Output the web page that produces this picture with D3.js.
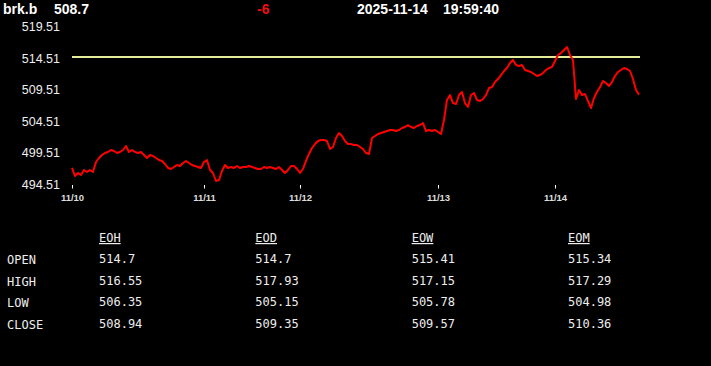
<!DOCTYPE html>
<html>
<head>
<meta charset="utf-8">
<script src="https://cdn.jsdelivr.net/npm/d3@7"></script>
<style>
  body { margin: 0; background: #000; }
  svg { display: block; }
</style>
</head>
<body>
<div id="chart"></div>
<script>
// header
var symbol = "brk.b", lastPrice = "508.7", change = "-6", stamp = ["2025-11-14", "19:59:40"];
var prevClose = 514.7;

// price series (index based, pre/after hours included)
var prices = [
  497.10, 495.83, 496.30, 495.98, 496.78, 496.46, 496.78, 496.46, 498.05, 498.68,
  499.16, 499.47, 499.63, 499.95, 499.79, 499.47, 499.63, 499.95, 500.58, 499.63,
  499.95, 499.63, 499.47, 499.63, 499.16, 498.68, 499.16, 499.00, 498.68, 498.36,
  498.21, 497.73, 497.10, 496.94, 497.25, 497.57, 497.41, 497.89, 498.21, 497.89,
  497.57, 497.41, 497.25, 497.10, 498.05, 498.36, 496.78, 496.30, 495.03, 495.19,
  496.62, 497.57, 497.10, 497.25, 497.10, 497.41, 497.10, 497.25, 497.25, 497.41,
  497.25, 497.10, 496.94, 496.94, 497.25, 497.10, 497.25, 497.10, 496.94, 497.25,
  496.78, 496.30, 496.78, 497.41, 497.41, 496.94, 496.30, 496.94, 498.21, 499.32,
  500.27, 500.90, 501.38, 501.54, 501.54, 501.38, 500.11, 500.43, 501.85, 502.65,
  502.17, 501.38, 500.90, 500.90, 500.74, 500.74, 500.43, 500.11, 499.47, 499.32,
  501.85, 502.17, 502.49, 502.65, 502.80, 502.96, 503.12, 503.12, 502.96, 503.12,
  503.44, 503.60, 503.91, 503.60, 503.44, 503.76, 503.91, 504.23, 502.96, 503.12,
  502.96, 503.12, 502.80, 502.49, 504.71, 507.88, 508.67, 507.40, 507.25, 508.67,
  509.15, 507.40, 506.77, 508.67, 508.99, 507.88, 507.72, 508.04, 508.67, 509.78,
  509.94, 510.73, 511.21, 511.84, 512.48, 512.96, 513.75, 514.22, 513.43, 513.27,
  513.43, 512.64, 512.48, 512.32, 512.00, 511.69, 511.84, 512.16, 512.64, 512.96,
  513.11, 514.07, 515.02, 515.33, 515.81, 516.29, 515.02, 514.22, 508.04, 509.47,
  508.67, 508.83, 507.72, 506.61, 508.20, 509.15, 509.94, 510.89, 510.58, 510.10,
  510.73, 511.69, 512.32, 512.64, 512.96, 512.80, 512.48, 511.21, 509.47, 508.70
];

// x ticks: index of the first bar of each day
var dayIndex = [0, 44, 76, 122, 161];
var dayLabels = ["11/10", "11/11", "11/12", "11/13", "11/14"];

// y ticks
var yTicks = [494.51, 499.51, 504.51, 509.51, 514.51, 519.51];

// summary table
var periods = ["EOH", "EOD", "EOW", "EOM"];
var rowNames = ["OPEN", "HIGH", "LOW", "CLOSE"];
var openVals = ["514.7", "514.7", "515.41", "515.34"];
var highVals = ["516.55", "517.93", "517.15", "517.29"];
var lowVals = ["506.35", "505.15", "505.78", "504.98"];
var closeVals = ["508.94", "509.35", "509.57", "510.36"];

var W = 711, H = 366;
var svg = d3.select("#chart").append("svg")
    .attr("width", W)
    .attr("height", H)
    .style("background", "#000");

var sans = "'Liberation Sans', Arial, sans-serif";
var mono = "'DejaVu Sans Mono', monospace";

// header text
var head = svg.append("g")
    .style("font-family", sans)
    .style("font-size", "14px")
    .style("font-weight", "bold");
head.append("text").attr("x", 3).attr("y", 14).attr("fill", "#fff").text(symbol);
head.append("text").attr("x", 54).attr("y", 14).attr("fill", "#fff").text(lastPrice);
head.append("text").attr("x", 257).attr("y", 14).attr("fill", "#ee1111").text(change);
head.append("text").attr("x", 357).attr("y", 14).attr("fill", "#fff").text(stamp[0]);
head.append("text").attr("x", 443).attr("y", 14).attr("fill", "#fff").text(stamp[1]);

// scales
var x = d3.scaleLinear()
    .domain([0, prices.length - 1])
    .range([72, 639]);
var y = d3.scaleLinear()
    .domain([494.51, 519.51])
    .range([184.3, 26.7]);

// y axis labels
var yAxis = svg.append("g")
    .attr("transform", "translate(60,0)")
    .call(d3.axisLeft(y).tickValues(yTicks).tickSize(0).tickPadding(0).tickFormat(d3.format(".2f")));
yAxis.select(".domain").remove();
yAxis.selectAll("text")
    .attr("fill", "#eee")
    .style("font-family", sans)
    .style("font-size", "12.5px");

// x axis ticks + labels
var xAxis = svg.append("g")
    .attr("transform", "translate(0,185)")
    .call(d3.axisBottom(x).tickValues(dayIndex).tickSize(3.5).tickPadding(6)
        .tickFormat(function(d, i) { return dayLabels[i]; }));
xAxis.select(".domain").remove();
xAxis.selectAll("line").attr("stroke", "#fff");
xAxis.selectAll("text")
    .attr("fill", "#ddd")
    .style("font-family", sans)
    .style("font-size", "9.5px")
    .style("font-weight", "bold");

// previous close line
svg.append("line")
    .attr("x1", x(0))
    .attr("x2", x(prices.length - 1) + 1)
    .attr("y1", y(prevClose))
    .attr("y2", y(prevClose))
    .attr("stroke", "#e4ec9a")
    .attr("stroke-width", 2);

// price line
var line = d3.line()
    .x(function(d, i) { return x(i); })
    .y(function(d) { return y(d); });
svg.append("path")
    .datum(prices)
    .attr("d", line)
    .attr("fill", "none")
    .attr("stroke", "#ff0000")
    .attr("stroke-width", 2)
    .attr("stroke-linejoin", "round");

// table
var colX = d3.scalePoint().domain(periods).range([99, 568]);
var rowY = d3.scalePoint().domain(rowNames).range([263, 328]);
var table = svg.append("g")
    .style("font-family", mono)
    .style("font-size", "12px")
    .attr("fill", "#eee");

table.selectAll(".hdr")
    .data(periods)
    .enter().append("text")
    .attr("class", "hdr")
    .attr("x", function(d) { return colX(d); })
    .attr("y", 242)
    .style("text-decoration", "underline")
    .text(function(d) { return d; });

table.selectAll(".row")
    .data(rowNames)
    .enter().append("text")
    .attr("class", "row")
    .attr("x", 7)
    .attr("y", function(d) { return rowY(d) + 1; })
    .text(function(d) { return d; });

var rows = [openVals, highVals, lowVals, closeVals];
rows.forEach(function(vals, r) {
  table.selectAll(".v" + r)
    .data(vals)
    .enter().append("text")
    .attr("class", "v" + r)
    .attr("x", function(d, i) { return colX(periods[i]); })
    .attr("y", rowY(rowNames[r]))
    .text(function(d) { return d; });
});
</script>
</body>
</html>
